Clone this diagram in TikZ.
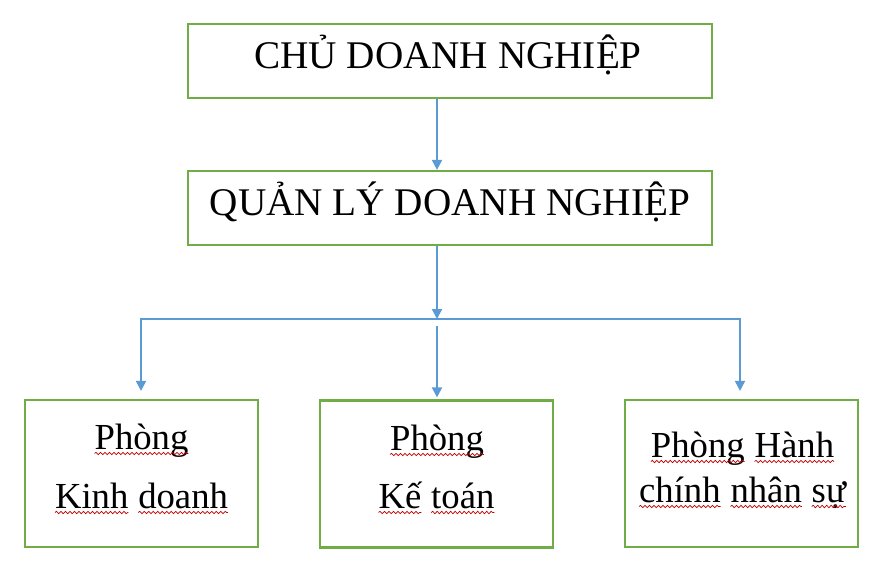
\documentclass[tikz,border=0pt]{standalone}
\usepackage{fontspec}
\setmainfont{Liberation Serif}
\usetikzlibrary{arrows.meta,decorations.pathmorphing,calc}
\definecolor{boxgreen}{HTML}{70AD47}
\definecolor{arrowblue}{HTML}{5B9BD5}
\definecolor{wavered}{HTML}{C00000}
\newcommand\wv[1]{\tikz[baseline=(w.base)]{\node[inner sep=0pt,outer sep=0pt,draw=none,fill=none](w){#1};\draw[wavered,line width=0.7pt,decorate,decoration={snake,amplitude=1.2pt,segment length=4.5pt}]([yshift=-4.5pt]w.base west)--([yshift=-4.5pt]w.base east);}}
\begin{document}
\begin{tikzpicture}[x=1pt,y=-1pt,
  box/.style={draw=boxgreen,line width=2.2pt,fill=white,inner sep=0pt},
  topbox/.style={box,minimum width=524pt,minimum height=74pt},
  dept/.style={box,minimum width=233pt,minimum height=147pt},
  conn/.style={draw=arrowblue,line width=2pt},
  arr/.style={conn,-{Triangle[width=10pt,length=10pt]}},
  lbl/.style={anchor=base,inner sep=0pt},
  big/.style={font=\fontsize{39.2}{46}\selectfont},
  small/.style={font=\fontsize{36.7}{44}\selectfont}]
\useasboundingbox (0,0) rectangle (893,573);
% boxes
\node[topbox] (chu) at (450,61) {};
\node[topbox] (ql) at (450,208) {};
\node[dept] (kd) at (141.5,473.5) {};
\node[dept] (kt) at (436.5,474) {};
\node[dept] (ns) at (741.5,473.5) {};
% texts
\node[lbl,big] (tchu) at (448,68) {CHỦ DOANH NGHIỆP};
\node[lbl,big] (tql) at (450,215) {QUẢN LÝ DOANH NGHIỆP};
\node[lbl,small] (kd1) at (141.5,449) {\wv{Phòng}};
\node[lbl,small] (kd2) at (141.5,508) {\wv{Kinh} \wv{doanh}};
\node[lbl,small] (kt1) at (437,450) {\wv{Phòng}};
\node[lbl,small] (kt2) at (436.5,508) {\wv{Kế} \wv{toán}};
\node[lbl,small] (ns1) at (742.5,457) {\wv{Phòng} \wv{Hành}};
\node[lbl,small] (ns2) at (742.5,502) {\wv{chính} \wv{nhân} \wv{sự}};
% junction points
\coordinate (jl) at (141,319);
\coordinate (jr) at (740,319);
\coordinate (jm) at (437,319);
\coordinate (jm2) at (437,326);
% connectors
\draw[arr] ([xshift=-13pt]chu.south) -- ([xshift=-13pt]ql.north);
\draw[arr] ([xshift=-13pt]ql.south) -- (jm);
\draw[conn,line cap=rect] (jl) -- (jr);
\draw[arr] (jl) -- ($(jl |- kd.north)+(0,-8)$);
\draw[arr] (jm2) -- ($(jm2 |- kt.north)+(0,-2)$);
\draw[arr] (jr) -- ($(jr |- ns.north)+(0,-8)$);
\end{tikzpicture}
\end{document}
